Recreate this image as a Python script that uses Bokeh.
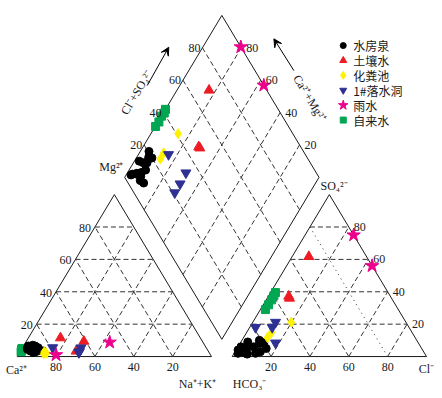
import math
from bokeh.plotting import figure
from bokeh.models import Range1d, Arrow, VeeHead
from bokeh.embed import file_html
from bokeh.resources import INLINE
from bokeh.core.properties import value

# ---------------- data (percent of meq) ----------------
# 水房泉
sfq_ca = [91, 89, 88, 87, 85, 90, 89.5, 88.5, 87.5, 91.5, 90.5, 86.5, 92, 89, 92.5, 88]
sfq_mg = [6.5, 6, 5, 4, 3.5, 5, 4, 7, 6.5, 3.5, 2.5, 5.5, 5.5, 3, 4.5, 3.5]
sfq_cl = [2, 4, 5, 3, 6, 8, 10, 12, 9, 1.5, 13, 15, 3.5, 7, 1, 11]
sfq_so4 = [2, 3, 5, 4, 2, 6, 8, 8.5, 10, 6, 3, 5, 9, 1.5, 4, 2]
# 土壤水
trs_ca = [72, 61, 68]
trs_mg = [11.5, 9.4, 3.3]
trs_cl = [8.6, 10.5, 11.5]
trs_so4 = [61.7, 37.2, 36]
# 化粪池
hfc_ca = [84, 84.5, 85.5]
hfc_mg = [2, 3, 1.8]
hfc_cl = [19.8, 12.8, 12.3]
hfc_so4 = [21.2, 14.8, 11.7]
# 1#落水洞
lsd_ca = [79, 64.5, 67, 66.5]
lsd_mg = [5.5, 5.4, 2.5, 3]
lsd_cl = [11.6, 11.7, 18.1, 3]
lsd_so4 = [18, 21.2, 8.4, 18]
# 雨水
ys_ca = [79.5, 48]
ys_mg = [1, 8.8]
ys_cl = [25, 44]
ys_so4 = [75, 56]
# 自来水
zls_ca = [95.5, 96, 95, 96.5, 95.8]
zls_mg = [4.5, 3.5, 5, 3, 4]
zls_cl = [2.5, 2.7, 2.8, 2.7, 2.6]
zls_so4 = [39.5, 37.5, 35, 32, 29]

grid_ticks = [20, 40, 60, 80]
legend_order = ["水房泉", "土壤水", "化粪池", "1#落水洞", "雨水", "自来水"]

# ---------------- geometry ----------------
GAP = 10.65
H = math.sqrt(3) / 2
BX, BY = 100 + GAP / 2, GAP * H   # diamond bottom vertex


def cation_xy(ca, mg):
    xs, ys = [], []
    for c, m in zip(ca, mg):
        na = 100 - c - m
        xs.append(na + m / 2)
        ys.append(m * H)
    return xs, ys


def anion_xy(cl, so4):
    xs, ys = [], []
    for c, s in zip(cl, so4):
        xs.append(100 + GAP + c + s / 2)
        ys.append(s * H)
    return xs, ys


def diamond_xy(ca, mg, cl, so4):
    xs, ys = [], []
    for a, b, c, d in zip(ca, mg, cl, so4):
        cm, cs = a + b, c + d
        xs.append(BX + 0.5 * (cs - cm))
        ys.append(BY + H * (cs + cm))
    return xs, ys


W, HT = 436, 392
SX, SY = 1.943, 1.87
X0, Y1 = -8.6, 190.4
p = figure(width=W, height=HT, output_backend="svg", toolbar_location=None,
           x_range=Range1d(X0, X0 + W / SX), y_range=Range1d(Y1 - HT / SY, Y1),
           x_axis_type=None, y_axis_type=None, min_border=0)
p.outline_line_color = None
p.xgrid.visible = False
p.ygrid.visible = False

LC = "#1a1a1a"
# ---- outlines ----
ox = [0, 100, 50, 0]
oy = [0, 0, 100 * H, 0]
p.line(ox, oy, line_color=LC, line_width=1)
p.line([v + 100 + GAP for v in ox], oy, line_color=LC, line_width=1)
p.line([BX, BX + 50, BX, BX - 50, BX], [BY, BY + 100 * H, BY + 200 * H, BY + 100 * H, BY],
       line_color=LC, line_width=1)

# ---- grid lines ----
gxs, gys = [], []
dot_xs, dot_ys = [], []
for t in grid_ticks:
    gxs.append([t / 2, 100 - t / 2]); gys.append([t * H, t * H])
    gxs.append([100 - t, (100 - t) / 2]); gys.append([0, (100 - t) * H])
    gxs.append([t, t + (100 - t) / 2]); gys.append([0, (100 - t) * H])
    o = 100 + GAP
    gxs.append([o + t / 2, o + 100 - t / 2]); gys.append([t * H, t * H])
    gxs.append([o + t, o + t + (100 - t) / 2]); gys.append([0, (100 - t) * H])
    hx = [o + 100 - t, o + (100 - t) / 2]; hy = [0, (100 - t) * H]
    if t == 20:
        dot_xs.append(hx); dot_ys.append(hy)
    else:
        gxs.append(hx); gys.append(hy)
    gxs.append([BX - t / 2, BX - t / 2 + 50]); gys.append([BY + t * H, BY + t * H + 100 * H])
    gxs.append([BX + t / 2, BX + t / 2 - 50]); gys.append([BY + t * H, BY + t * H + 100 * H])
p.multi_line(gxs, gys, line_color="#333333", line_width=1, line_dash="5 3")
p.multi_line(dot_xs, dot_ys, line_color="#333333", line_width=1, line_dash="1 4")

# ---- points ----
series = {
    "自来水": (zls_ca, zls_mg, zls_cl, zls_so4, "square", 8, "#00a651", 6),
    "水房泉": (sfq_ca, sfq_mg, sfq_cl, sfq_so4, "circle", 8, "#000000", 6),
    "化粪池": (hfc_ca, hfc_mg, hfc_cl, hfc_so4, "diamond", 10, "#fff200", 8),
    "土壤水": (trs_ca, trs_mg, trs_cl, trs_so4, "triangle", 10, "#ed1c24", 7),
    "1#落水洞": (lsd_ca, lsd_mg, lsd_cl, lsd_so4, "inverted_triangle", 10, "#2e3192", 7),
    "雨水": (ys_ca, ys_mg, ys_cl, ys_so4, "star", 14, "#ec008c", 10),
}
for name in ["自来水", "水房泉", "化粪池", "土壤水", "1#落水洞", "雨水"]:
    ca, mg, cl, so4, mk, sz, col, _ = series[name]
    cx, cy = cation_xy(ca, mg)
    axx, ayy = anion_xy(cl, so4)
    dx, dy = diamond_xy(ca, mg, cl, so4)
    p.scatter(cx + axx + dx, cy + ayy + dy, marker=mk, size=sz,
              fill_color=col, line_color=col)

# ---- text helper ----
FONT = value("Liberation Serif")
FS = "12px"


def labels(xs, ys, txt, align, baseline, xo=0, yo=0, angle=0.0, font=FONT, fs=FS):
    p.text(xs, ys, text=txt, text_align=align, text_baseline=baseline,
           x_offset=xo, y_offset=yo, angle=angle, text_font=font,
           text_font_size=fs, text_color="#1a1a1a")


tt = [str(t) for t in grid_ticks]
labels([100 - t for t in grid_ticks], [0] * 4, tt, "center", "top", 0, 6)
labels([t / 2 for t in grid_ticks], [t * H for t in grid_ticks], tt, "right", "middle", -4, 1)
labels([100 + GAP + t for t in grid_ticks], [0] * 4, tt, "center", "top", 0, 6)
labels([100 + GAP + 100 - t / 2 for t in grid_ticks], [t * H for t in grid_ticks], tt,
       "left", "alphabetic", 5, 0)
labels([BX - 50 + t / 2 for t in grid_ticks], [BY + 100 * H + t * H for t in grid_ticks], tt,
       "right", "alphabetic", -2, 0)
labels([BX + 50 - t / 2 for t in grid_ticks], [BY + 100 * H + t * H for t in grid_ticks], tt,
       "left", "alphabetic", 5, 0)

# ---- axis titles ----
labels([-0.4], [-3.7], ["Ca²⁺"], "center", "top")
labels([92.8], [-11.2], ["Na⁺+K⁺"], "center", "top")
labels([119.6], [-11.2], ["HCO₃⁻"], "center", "top")
labels([210.6], [-2.7], ["Cl⁻"], "center", "top")
labels([54.7], [101.6], ["Mg²⁺"], "right", "middle")
labels([156.1], [91.4], ["SO₄²⁻"], "left", "middle")
labels([61.4], [141.2], ["Cl⁻+SO₄²⁻"], "center", "middle", angle=math.radians(59))
labels([150.5], [138.2], ["Ca²⁺+Mg²⁺"], "center", "middle", angle=math.radians(-59))

p.add_layout(Arrow(end=VeeHead(size=8, fill_color="black", line_color="black"),
                   x_start=66.9, y_start=144.9, x_end=78.0, y_end=165.4,
                   line_color="black", line_width=1))
p.add_layout(Arrow(end=VeeHead(size=8, fill_color="black", line_color="black"),
                   x_start=142.4, y_start=152.9, x_end=132.1, y_end=169.9,
                   line_color="black", line_width=1))

# ---- legend (drawn in plot area) ----
LGX, LGY, LGSTEP = 167.8, 166.3, 7.97
for i, name in enumerate(legend_order):
    _, _, _, _, mk, _, col, lsz = series[name]
    yy = LGY - i * LGSTEP
    p.scatter([LGX], [yy], marker=mk, size=lsz, fill_color=col, line_color=col)
    labels([LGX + 5.1], [yy], [name], "left", "middle",
           font=value("Noto Sans CJK SC"), fs="12px")

open("out.html", "w").write(file_html(p, INLINE))
